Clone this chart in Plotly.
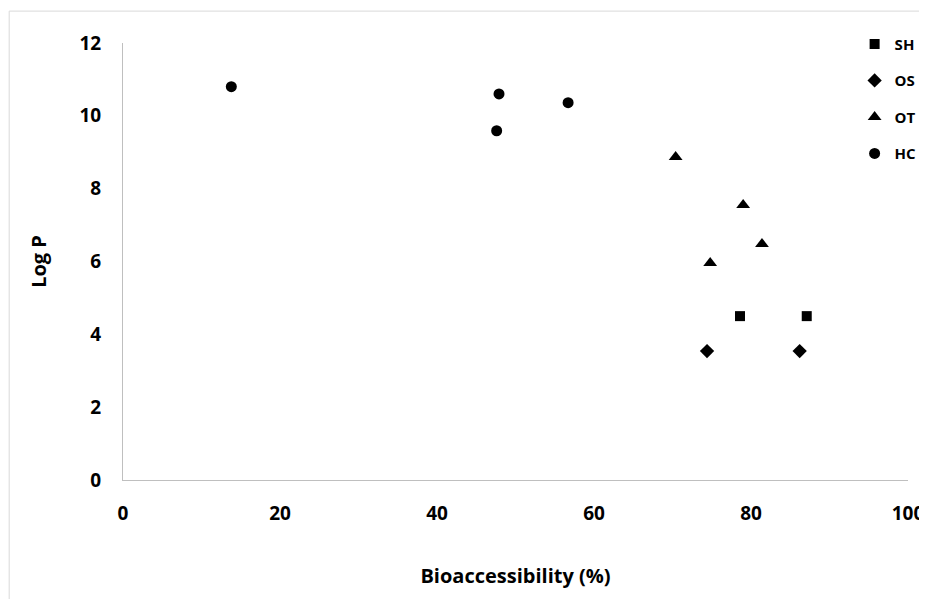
import plotly.graph_objects as go

# Data
sh_x = [78.6, 87.1]
sh_y = [4.5, 4.5]
os_x = [74.4, 86.2]
os_y = [3.54, 3.54]
ot_x = [70.4, 79.0, 81.4, 74.8]
ot_y = [8.87, 7.55, 6.48, 5.96]
hc_x = [13.8, 47.9, 47.6, 56.7]
hc_y = [10.8, 10.6, 9.59, 10.36]

x_ticks = [0, 20, 40, 60, 80, 100]
y_ticks = [0, 2, 4, 6, 8, 10, 12]

FONT = "Open Sans"

fig = go.Figure()
series = [
    ("SH", sh_x, sh_y, "square", 10),
    ("OS", os_x, os_y, "diamond", 11),
    ("OT", ot_x, ot_y, "triangle-up", 12),
    ("HC", hc_x, hc_y, "circle", 11),
]
for name, xs, ys, sym, sz in series:
    fig.add_trace(go.Scatter(
        x=xs, y=ys, mode="markers", name=name, legendgroup=name,
        marker=dict(symbol=sym, size=sz, color="black", line=dict(width=0)),
    ))

fig.update_layout(
    width=919, height=591,
    margin=dict(l=115, r=19, t=35, b=119, autoexpand=False),
    paper_bgcolor="white", plot_bgcolor="white",
    font=dict(family=FONT, color="black"),
    showlegend=True,
    legend=dict(
        x=0.932, y=1.035, xanchor="left", yanchor="top",
        font=dict(family=FONT, size=15, color="black", weight="bold"),
        itemwidth=30, tracegroupgap=14, traceorder="grouped",
        bgcolor="rgba(0,0,0,0)",
    ),
    xaxis=dict(
        range=[0, 100], tickvals=x_ticks, showgrid=False, zeroline=False,
        showline=True, linecolor="#bfbfbf", linewidth=1, automargin=False,
        ticklabeloverflow="allow",
        ticks="outside", ticklen=16, tickcolor="rgba(0,0,0,0)",
        tickfont=dict(family=FONT, size=19, weight="bold"),
        title=dict(text="Bioaccessibility (%)", standoff=44,
                   font=dict(family=FONT, size=20, weight="bold")),
    ),
    yaxis=dict(
        range=[0, 12], tickvals=y_ticks, showgrid=False, zeroline=False,
        showline=True, linecolor="#bfbfbf", linewidth=1, automargin=False,
        ticklabeloverflow="allow",
        ticks="outside", ticklen=17, tickcolor="rgba(0,0,0,0)",
        tickfont=dict(family=FONT, size=19, weight="bold"),
        title=dict(text="Log P", standoff=27,
                   font=dict(family=FONT, size=20, weight="bold")),
    ),
    shapes=[dict(type="rect", xref="paper", yref="paper",
                 x0=-0.145, x1=1.3, y0=-0.5, y1=1.073,
                 line=dict(color="#d9d9d9", width=1), fillcolor="rgba(0,0,0,0)",
                 layer="below")],
)

fig.write_html("out.html")
